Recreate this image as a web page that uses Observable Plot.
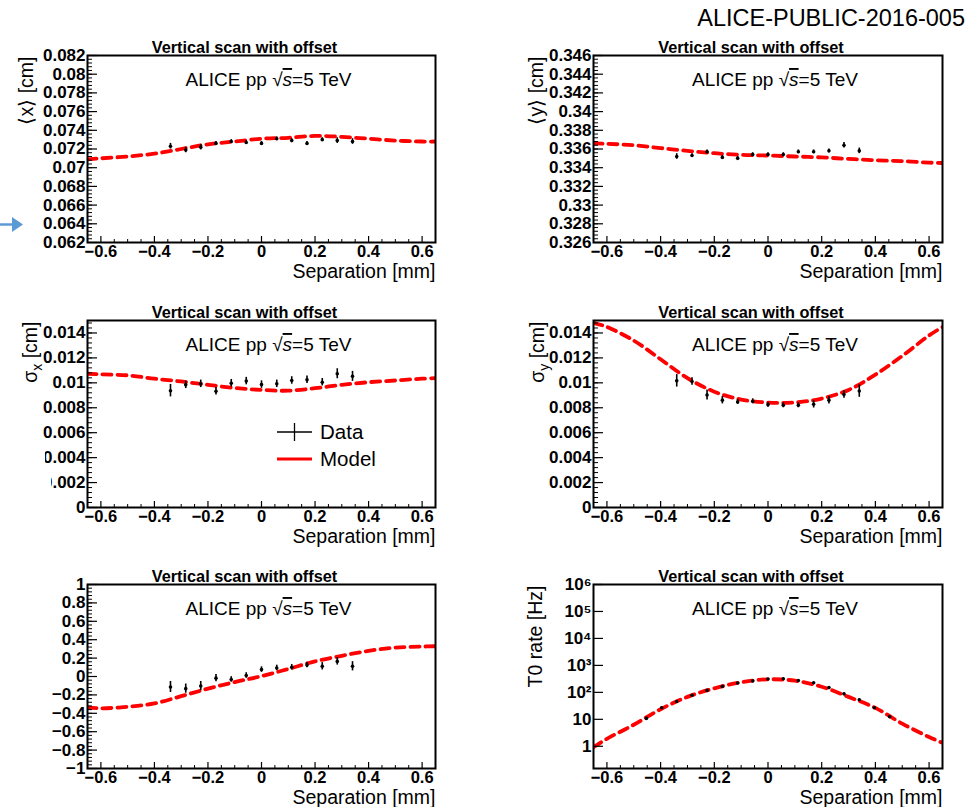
<!DOCTYPE html>
<html><head><meta charset="utf-8">
<script src="https://cdn.jsdelivr.net/npm/d3@7"></script>
<script src="https://cdn.jsdelivr.net/npm/@observablehq/plot@0.6"></script>
<style>
html,body{margin:0;padding:0;background:#fff;overflow:hidden;}
#root{position:relative;width:978px;height:807px;font-family:"Liberation Sans",Arial,Helvetica,sans-serif;}
.pane{position:absolute;}
#header{position:absolute;right:13px;top:6px;font-size:23.5px;line-height:24px;color:#000;}
#overlay{position:absolute;left:0;top:0;pointer-events:none;}
</style></head><body><div id="root"><div id="header">ALICE-PUBLIC-2016-005</div></div>
<script>
// ---------- data ----------
const panelTitle = "Vertical scan with offset";
const experimentText = "ALICE pp √s=5 TeV";
const xAxisLabel = "Separation [mm]";

const sepTicks = [-0.6, -0.4, -0.2, 0, 0.2, 0.4, 0.6];

const sepData = [-0.34, -0.283, -0.227, -0.17, -0.113, -0.057, 0, 0.057, 0.113, 0.17, 0.227, 0.283, 0.34];
const sepModel = [-0.65, -0.6, -0.5, -0.4, -0.3, -0.2, -0.1, 0, 0.1, 0.2, 0.3, 0.4, 0.5, 0.6, 0.65];
const sepRate = [-0.453, -0.396, -0.34, -0.283, -0.227, -0.17, -0.113, -0.057, 0, 0.057, 0.113, 0.17, 0.227, 0.283, 0.34, 0.396, 0.453];

// <x> [cm]
const meanXTicks = [0.062, 0.064, 0.066, 0.068, 0.07, 0.072, 0.074, 0.076, 0.078, 0.08, 0.082];
const meanXData = [0.0723, 0.0719, 0.0722, 0.0726, 0.0728, 0.0727, 0.0726, 0.0731, 0.0729, 0.0726, 0.0730, 0.0729, 0.0728];
const meanXErr = [0.0003, 0.0003, 0.0003, 0.0002, 0.0002, 0.0002, 0.0002, 0.0002, 0.0002, 0.0002, 0.0002, 0.0003, 0.0003];
const meanXModel = [0.0709, 0.0710, 0.0712, 0.0715, 0.0720, 0.0725, 0.0728, 0.0731, 0.0732, 0.0734, 0.0733, 0.0731, 0.0729, 0.0728, 0.0728];

// <y> [cm]
const meanYTicks = [0.326, 0.328, 0.33, 0.332, 0.334, 0.336, 0.338, 0.34, 0.342, 0.344, 0.346];
const meanYData = [0.3352, 0.3353, 0.3357, 0.3351, 0.3350, 0.3354, 0.3354, 0.3354, 0.3357, 0.3357, 0.3358, 0.3364, 0.3358];
const meanYErr = [0.0003, 0.0002, 0.0002, 0.0002, 0.0002, 0.0002, 0.0002, 0.0002, 0.0002, 0.0002, 0.0002, 0.0003, 0.0003];
const meanYModel = [0.3366, 0.33656, 0.3364, 0.3361, 0.3358, 0.33555, 0.33537, 0.3353, 0.3352, 0.3351, 0.33494, 0.3348, 0.3347, 0.33454, 0.3345];

// sigma_x, sigma_y [cm]
const sigmaTicks = [0, 0.002, 0.004, 0.006, 0.008, 0.01, 0.012, 0.014];
const sigmaXData = [0.00937, 0.00984, 0.00992, 0.00932, 0.00997, 0.01014, 0.00986, 0.00992, 0.01019, 0.01024, 0.01005, 0.01073, 0.01052];
const sigmaXErr = [0.0005, 0.0003, 0.0003, 0.0003, 0.0003, 0.0003, 0.0003, 0.0003, 0.0003, 0.0003, 0.0003, 0.0004, 0.0004];
const sigmaXModel = [0.01073, 0.01068, 0.0106, 0.01033, 0.01011, 0.00984, 0.00959, 0.00943, 0.00937, 0.00957, 0.00984, 0.01005, 0.01019, 0.01033, 0.01038];
const sigmaYData = [0.01016, 0.01011, 0.00902, 0.00861, 0.00847, 0.00852, 0.00825, 0.0082, 0.0082, 0.00828, 0.00861, 0.00907, 0.00934];
const sigmaYErr = [0.0005, 0.0003, 0.0004, 0.0003, 0.0002, 0.0002, 0.0002, 0.0002, 0.0002, 0.0003, 0.0003, 0.0003, 0.0005];
const sigmaYModel = [0.01481, 0.01448, 0.01339, 0.01189, 0.01038, 0.00929, 0.00866, 0.00842, 0.00842, 0.00874, 0.00943, 0.01066, 0.01216, 0.0138, 0.01448];

// correlation
const corrTicks = [-1, -0.8, -0.6, -0.4, -0.2, 0, 0.2, 0.4, 0.6, 0.8, 1];
const corrData = [-0.114, -0.132, -0.104, -0.018, -0.032, 0.011, 0.075, 0.093, 0.1, 0.125, 0.111, 0.164, 0.111];
const corrErr = [0.06, 0.05, 0.05, 0.04, 0.03, 0.03, 0.03, 0.03, 0.03, 0.03, 0.04, 0.04, 0.05];
const corrModel = [-0.336, -0.346, -0.329, -0.293, -0.214, -0.132, -0.061, 0.004, 0.082, 0.164, 0.225, 0.279, 0.314, 0.325, 0.329];

// T0 rate [Hz]
const rateTicks = [1, 10, 100, 1000, 10000, 100000, 1000000];
const rateTickLabels = ["1", "10", "10²", "10³", "10⁴", "10⁵", "10⁶"];
const rateData = [10.8, 27, 46, 78, 118, 166, 222, 266, 312, 318, 276, 226, 150, 88, 53, 27, 12.4];
const rateErr = [1.2, 2, 3, 4, 5, 6, 7, 8, 9, 9, 8, 7, 6, 5, 4, 2, 1.2];
const rateModel = [0.92, 1.9, 6.3, 23.7, 68, 141, 237, 305, 270, 162, 68, 26.5, 6.9, 2.2, 1.34];

const legendLabels = ["Data", "Model"];

// ---------- helpers ----------
const FONT = '"Liberation Sans", Arial, Helvetica, sans-serif';
const SVGNS = "http://www.w3.org/2000/svg";
const numFmt = d => String(+d.toFixed(4)).replace("-", "\u2212");

function tspan(parent, text, attrs = {}) {
  const t = document.createElementNS(SVGNS, "tspan");
  for (const k in attrs) t.setAttribute(k, attrs[k]);
  t.textContent = text;
  parent.appendChild(t);
  return t;
}
function rich(svg, plain, build) {
  svg.querySelectorAll("text").forEach(el => {
    if (el.textContent === plain) { el.textContent = ""; build(el); }
  });
}
const minor = (lo, hi, step) => d3.range(Math.round((hi - lo) / step) + 1).map(i => +(lo + i * step).toFixed(6));
const xMinor = minor(-0.65, 0.65, 0.05).filter(v => !sepTicks.some(t => Math.abs(t - v) < 1e-6));

function panel(cfg) {
  const W = 489, mT = 40, mB = 42;
  const frameW = W - cfg.marginLeft - cfg.marginRight;
  const H = mT + cfg.frameH + mB;
  const model = cfg.modelX.map((x, i) => ({x, y: cfg.modelY[i]}));
  const data = cfg.dataX.map((x, i) => ({x, y: cfg.dataY[i], lo: cfg.dataY[i] - cfg.err[i], hi: cfg.dataY[i] + cfg.err[i]}));
  const marks = [
    Plot.line(model, {x: "x", y: "y", stroke: "#ff0000", strokeWidth: 3.8, strokeDasharray: "9,6", curve: "catmull-rom", clip: true}),
    Plot.ruleX(data, {x: "x", y1: "lo", y2: "hi", stroke: "#000", strokeWidth: 1.6}),
    Plot.dot(data, {x: "x", y: "y", r: 1.8, fill: "#000", stroke: "none"}),
    Plot.tickY(cfg.yMinor, {y: d => d, insetRight: frameW - 5, stroke: "#000", strokeWidth: 1}),
    Plot.tickY(cfg.yTicks, {y: d => d, insetRight: frameW - 10, stroke: "#000", strokeWidth: 1.2}),
    Plot.tickX(xMinor, {x: d => d, insetTop: cfg.frameH - 3, stroke: "#000", strokeWidth: 1}),
    Plot.tickX(sepTicks, {x: d => d, insetTop: cfg.frameH - 6, stroke: "#000", strokeWidth: 1.2}),
    Plot.axisY(cfg.yTicks, {tickSize: 0, tickPadding: 2, tickFormat: cfg.yFormat, fontSize: 17, fontWeight: "bold"}),
    Plot.axisX(sepTicks, {tickSize: 0, tickPadding: 3, tickFormat: numFmt, fontSize: 16.5, fontWeight: "bold"}),
    Plot.frame({stroke: "#000", strokeWidth: 2}),
    Plot.text([panelTitle], {frameAnchor: "top", dx: -17, dy: -14, fontSize: 16.3, fontWeight: "bold"}),
    Plot.text([experimentText], {frameAnchor: "top", dx: 7, dy: 17, fontSize: 19}),
    Plot.text([xAxisLabel], {frameAnchor: "bottom-right", textAnchor: "end", dy: 35, fontSize: 19.5})
  ];
  if (cfg.ylabel) {
    marks.push(Plot.text([cfg.ylabel], {frameAnchor: "top-left", rotate: -90, textAnchor: "end", dx: cfg.ylabelDx, dy: 1, fontSize: 19.5}));
  }
  const svg = Plot.plot({
    width: W, height: H,
    marginTop: mT, marginBottom: mB, marginLeft: cfg.marginLeft, marginRight: cfg.marginRight,
    x: {domain: [-0.65, 0.65], label: null},
    y: {type: cfg.yType || "linear", domain: cfg.yDomain, label: null},
    style: {fontFamily: FONT, fontSize: "16px", color: "#000", background: "transparent", overflow: "visible"},
    marks
  });
  rich(svg, experimentText, el => {
    tspan(el, "ALICE pp \u221A");
    tspan(el, "s", {"font-style": "italic", "text-decoration": "overline"});
    tspan(el, "=5 TeV");
  });
  if (cfg.sub) {
    rich(svg, cfg.ylabel, el => {
      tspan(el, "\u03C3");
      tspan(el, cfg.sub, {dy: "5", "font-size": "14"});
      tspan(el, " [cm]", {dy: "-5"});
    });
  }
  svg.classList.add("pane");
  svg.style.left = cfg.left + "px";
  svg.style.top = (cfg.frameTop - mT) + "px";
  document.getElementById("root").appendChild(svg);
}

const L = {left: 0, marginLeft: 87, marginRight: 54};
const R = {left: 489, marginLeft: 104, marginRight: 36};

panel({...L, frameTop: 55, frameH: 187, yDomain: [0.062, 0.082], yTicks: meanXTicks, yMinor: minor(0.062, 0.082, 0.0004), yFormat: numFmt,
  modelX: sepModel, modelY: meanXModel, dataX: sepData, dataY: meanXData, err: meanXErr, ylabel: "\u27E8x\u27E9 [cm]", ylabelDx: -68});
panel({...R, frameTop: 55, frameH: 187, yDomain: [0.326, 0.346], yTicks: meanYTicks, yMinor: minor(0.326, 0.346, 0.0004), yFormat: numFmt,
  modelX: sepModel, modelY: meanYModel, dataX: sepData, dataY: meanYData, err: meanYErr, ylabel: "\u27E8y\u27E9 [cm]", ylabelDx: -64});
panel({...L, frameTop: 320, frameH: 187, yDomain: [0, 0.015], yTicks: sigmaTicks, yMinor: minor(0, 0.0148, 0.0004), yFormat: numFmt,
  modelX: sepModel, modelY: sigmaXModel, dataX: sepData, dataY: sigmaXData, err: sigmaXErr, ylabel: "\u03C3x [cm]", sub: "x", ylabelDx: -64});
panel({...R, frameTop: 320, frameH: 187, yDomain: [0, 0.015], yTicks: sigmaTicks, yMinor: minor(0, 0.0148, 0.0004), yFormat: numFmt,
  modelX: sepModel, modelY: sigmaYModel, dataX: sepData, dataY: sigmaYData, err: sigmaYErr, ylabel: "\u03C3y [cm]", sub: "y", ylabelDx: -63});
panel({...L, frameTop: 584, frameH: 184, yDomain: [-1, 1], yTicks: corrTicks, yMinor: minor(-1, 1, 0.04), yFormat: numFmt,
  modelX: sepModel, modelY: corrModel, dataX: sepData, dataY: corrData, err: corrErr, ylabel: null});
panel({...R, frameTop: 584, frameH: 184, yType: "log", yDomain: [0.15, 1e6], yTicks: rateTicks, yMinor: [],
  yFormat: d => rateTickLabels[rateTicks.indexOf(d)],
  modelX: sepModel, modelY: rateModel, dataX: sepRate, dataY: rateData, err: rateErr, ylabel: "T0 rate [Hz]", ylabelDx: -65});

// ---------- overlay: legend, arrow annotation ----------
const ov = d3.select("#root").append("svg").attr("id", "overlay").attr("width", 978).attr("height", 807);
// white masks over clipped tick labels (as in the reference crop)
ov.append("rect").attr("x", 0).attr("y", 448).attr("width", 45).attr("height", 19).attr("fill", "#fff");
ov.append("rect").attr("x", 0).attr("y", 472).attr("width", 51).attr("height", 20).attr("fill", "#fff");
// blue arrow
ov.append("line").attr("x1", 0).attr("x2", 14).attr("y1", 224.5).attr("y2", 224.5).attr("stroke", "#5b9bd5").attr("stroke-width", 2.5);
ov.append("path").attr("d", "M12,217 L23,224.5 L12,232 Z").attr("fill", "#5b9bd5");
// legend
const lg = ov.append("g").attr("font-family", FONT).attr("font-size", 20.5);
lg.append("line").attr("x1", 277).attr("x2", 312).attr("y1", 432).attr("y2", 432).attr("stroke", "#000").attr("stroke-width", 1.3);
lg.append("line").attr("x1", 294.5).attr("x2", 294.5).attr("y1", 423).attr("y2", 441).attr("stroke", "#000").attr("stroke-width", 1.3);
lg.append("text").attr("x", 320).attr("y", 432).attr("dy", "0.35em").text(legendLabels[0]);
lg.append("line").attr("x1", 277).attr("x2", 312).attr("y1", 459).attr("y2", 459).attr("stroke", "#ff0000").attr("stroke-width", 3);
lg.append("text").attr("x", 320).attr("y", 459).attr("dy", "0.35em").text(legendLabels[1]);
</script></body></html>
